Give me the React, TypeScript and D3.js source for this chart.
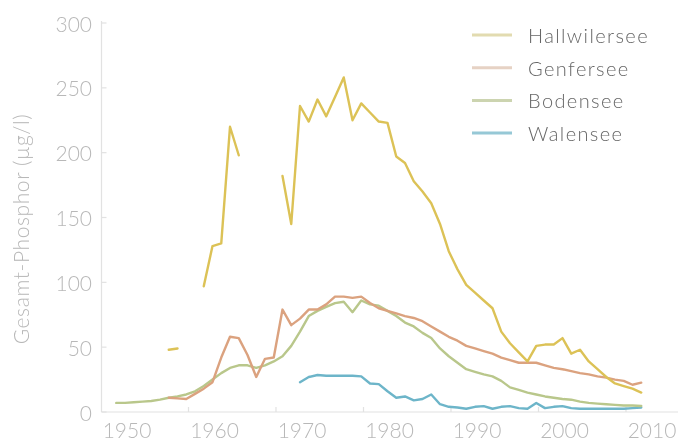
import * as d3 from "d3";

// years 1949..2009, null = no measurement
const years = d3.range(1949, 2010);

const hallwilersee = [
  null, null, null, null, null, null, 48, 49, null, null,
  97, 128, 130, 220, 198, null, null, null, null, 182,
  145, 236, 224, 241, 228, 243, 258, 225, 238, 231,
  224, 223, 197, 192, 178, 170, 161, 145, 124, 110,
  98, 92, 86, 80, 62, 53, 46, 39, 51, 52,
  52, 57, 45, 48, 39, 33, 27, 22, 20, 18,
  15
];
const genfersee = [
  null, null, null, null, null, null, 11, 10.5, 10, 14,
  18, 23, 42, 58, 57, 44, 27, 41, 42, 79,
  67, 72, 79, 79, 83, 89, 89, 88, 89, 84,
  80, 78, 76, 74, 72.5, 70, 66, 62, 58, 55,
  51, 49, 47, 45, 42, 40, 38, 38, 38, 36,
  34, 33, 31.5, 30, 29, 27.5, 26.5, 25, 24, 21,
  22.6
];
const bodensee = [
  7, 7, 7.5, 8, 8.5, 9.5, 11, 12, 13.5, 16,
  20, 25, 30, 34, 36, 36, 34, 36, 39, 43,
  51, 62, 74, 78, 81, 84, 85, 77, 86, 83,
  82, 78, 74, 69, 66, 61, 57, 49, 43, 38,
  33, 31, 29, 27.5, 24, 19, 17, 15, 13.5, 12,
  11, 10, 9.5, 8, 7, 6.5, 6, 5.5, 5, 5,
  4.6
];
const walensee = [
  null, null, null, null, null, null, null, null, null, null,
  null, null, null, null, null, null, null, null, null, null,
  null, 23, 27, 28.5, 28, 28, 28, 28, 27.5, 22,
  21.5, 16, 11, 12, 9, 10, 13.5, 6, 4, 3.5,
  2.5, 4, 4.5, 2.5, 4, 4.5, 3, 2.5, 7, 3,
  4, 4.5, 3, 2.5, 2.5, 2.5, 2.5, 2.5, 2.5, 3,
  3.5
];

const seriesNames = ["Hallwilersee", "Genfersee", "Bodensee", "Walensee"];
const seriesData = [hallwilersee, genfersee, bodensee, walensee];
const lineColors = ["#dcc257", "#dba27f", "#b9c78b", "#6db5c9"];
const legendColors = ["#e2dbb0", "#e6d2c4", "#ccd4b0", "#96c8d6"];

const xTicks = [1950, 1960, 1970, 1980, 1990, 2000, 2010];
const yTicks = [0, 50, 100, 150, 200, 250, 300];

const font = "Lato, 'Open Sans', sans-serif";

export default function App() {
  const width = 680;
  const height = 442;

  const x = d3.scaleLinear([1950, 2010], [125, 650]);
  const y = d3.scaleLinear([0, 300], [412, 23]);

  const line = d3.line<number | null>()
    .defined(d => d != null)
    .x((d, i) => x(years[i]))
    .y(d => y(d as number));

  const axisLeft = 101.5;
  const axisRight = 678;
  const tickShift = -24;

  return (
    <svg width={width} height={height} style={{position: "absolute", left: 0, top: 0, background: "#fff"}}>
      <defs>
        <filter id="soft" x="-5%" y="-5%" width="110%" height="110%">
          <feGaussianBlur stdDeviation="0.45" />
        </filter>
      </defs>
      <g filter="url(#soft)">
        {/* axes */}
        <g stroke="#e2e2e2" strokeWidth="1.2" fill="none">
          <line x1={axisLeft} x2={axisLeft} y1={y(300) - 2} y2={y(0)} />
          <line x1={axisLeft} x2={axisRight} y1={y(0)} y2={y(0)} />
          {yTicks.map(t => (
            <line key={"yt" + t} x1={axisLeft} x2={axisLeft + 5} y1={y(t)} y2={y(t)} />
          ))}
          {xTicks.slice(1).map(t => (
            <line key={"xt" + t} x1={x(t) + tickShift} x2={x(t) + tickShift} y1={y(0)} y2={y(0) - 5} />
          ))}
        </g>
        <g fill="#b8b8b8" fontFamily={font} fontWeight={300} fontSize={21}>
          {yTicks.map(t => (
            <text key={"yl" + t} x={92} y={y(t)} textAnchor="end" dominantBaseline="central">{t}</text>
          ))}
          {xTicks.map(t => (
            <text key={"xl" + t} x={x(t) + 2} y={438} textAnchor="middle">{t}</text>
          ))}
          <text transform={`translate(29,229) rotate(-90)`} textAnchor="middle" letterSpacing="0.6">Gesamt-Phosphor (µg/l)</text>
        </g>

        {/* lines, drawn bottom-up so Hallwilersee sits on top */}
        <g fill="none" strokeWidth="2.4" strokeLinejoin="round" strokeLinecap="round">
          {[3, 2, 1, 0].map(k => (
            <path key={seriesNames[k]} d={line(seriesData[k]) || ""} stroke={lineColors[k]} />
          ))}
        </g>

        {/* legend */}
        <g fontFamily={font} fontWeight={300} fontSize={20} fill="#666">
          {seriesNames.map((name, i) => (
            <g key={name} transform={`translate(0,${35 + i * 32.7})`}>
              <line x1={472} x2={512} y1={0} y2={0} stroke={legendColors[i]} strokeWidth="3" />
              <text x={528} y={0} dominantBaseline="central" letterSpacing="1.4">{name}</text>
            </g>
          ))}
        </g>
      </g>
    </svg>
  );
}
